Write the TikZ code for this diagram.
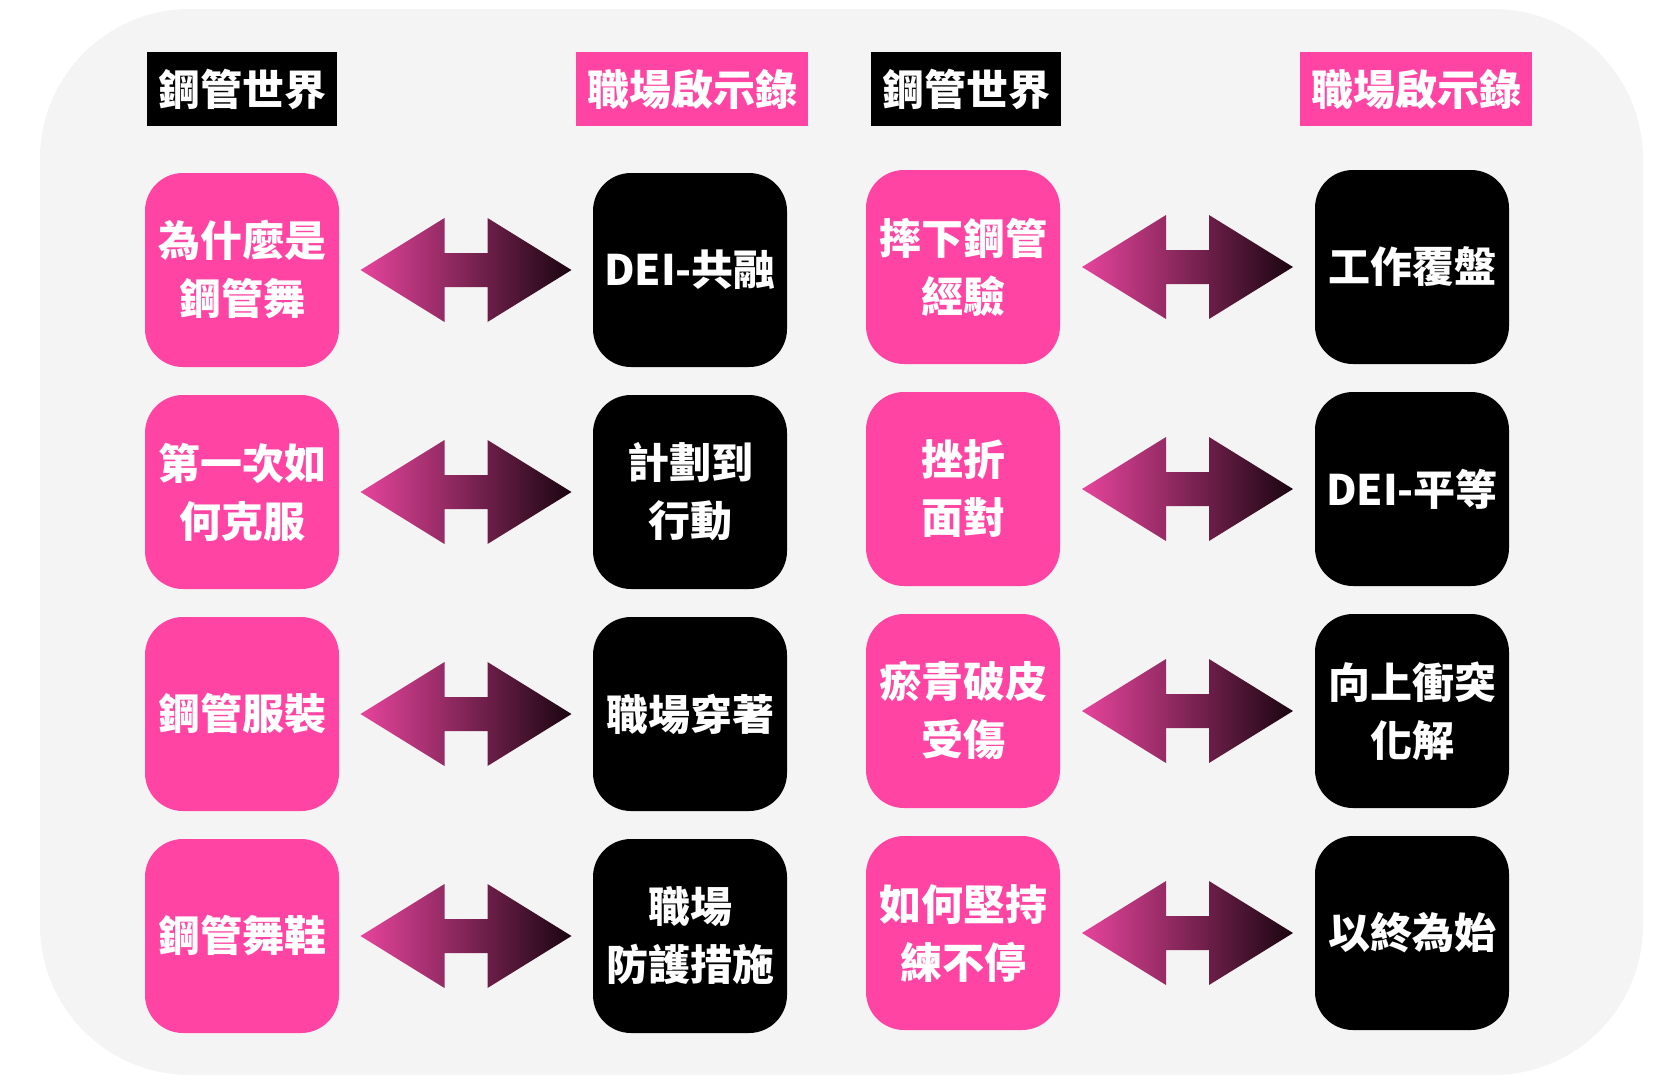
\documentclass[tikz,border=0pt]{standalone}
\usepackage{fontspec}
\newfontfamily\cjk{Noto Sans CJK TC}
\usetikzlibrary{calc}
\definecolor{bggray}{HTML}{F4F4F4}
\definecolor{boxpink}{HTML}{FF44A3}
\definecolor{tippink}{HTML}{E6449C}
\definecolor{tipdark}{HTML}{1A0510}
\tikzstyle{pinkcard}=[rectangle, rounded corners=19pt, minimum width=97pt, minimum height=97pt, inner sep=0, fill=boxpink, text=white, align=center, font=\cjk\bfseries\fontsize{21}{29}\selectfont]
\tikzstyle{blackcard}=[pinkcard, fill=black]
\tikzstyle{pinkhead}=[rectangle, minimum height=37pt, inner xsep=5.5pt, inner ysep=0, fill=boxpink, text=white, font=\cjk\bfseries\fontsize{21}{25}\selectfont]
\tikzstyle{blackhead}=[pinkhead, fill=black]
\tikzstyle{twoway}=[left color=tippink, right color=tipdark]
\newcommand{\twoway}[2]{%
  \shade[twoway] ($(#1.east)!0.5!(#2.west)+(-105.5,0)$) -- ++(84,-52) -- ++(0,35) -- ++(43,0) -- ++(0,-35)
    -- ++(84,52) -- ++(-84,52) -- ++(0,-35) -- ++(-43,0) -- ++(0,35) -- cycle;}

\begin{document}
\begin{tikzpicture}[x=0.5pt,y=-0.5pt]
\useasboundingbox (0,0) rectangle (1676,1088);
\fill[white] (0,0) rectangle (1676,1088);
\fill[bggray, rounded corners=75pt] (40,9) rectangle (1643,1075);

\node[blackhead] (headL1) at (242,89) {鋼管世界};
\node[pinkhead] (headL2) at (692,89) {職場啟示錄};
\node[blackhead] (headR1) at (966,89) {鋼管世界};
\node[pinkhead] (headR2) at (1416,89) {職場啟示錄};

% left half
\node[pinkcard] (poleL1) at (242,270) {為什麼是\\鋼管舞};
\node[pinkcard] (poleL2) at (242,492) {第一次如\\何克服};
\node[pinkcard] (poleL3) at (242,714) {鋼管服裝};
\node[pinkcard] (poleL4) at (242,936) {鋼管舞鞋};
\node[blackcard] (jobL1) at (690,270) {DEI-共融};
\node[blackcard] (jobL2) at (690,492) {計劃到\\行動};
\node[blackcard] (jobL3) at (690,714) {職場穿著};
\node[blackcard] (jobL4) at (690,936) {職場\\防護措施};

% right half
\node[pinkcard] (poleR1) at (963,267) {摔下鋼管\\經驗};
\node[pinkcard] (poleR2) at (963,489) {挫折\\面對};
\node[pinkcard] (poleR3) at (963,711) {瘀青破皮\\受傷};
\node[pinkcard] (poleR4) at (963,933) {如何堅持\\練不停};
\node[blackcard] (jobR1) at (1412,267) {工作覆盤};
\node[blackcard] (jobR2) at (1412,489) {DEI-平等};
\node[blackcard] (jobR3) at (1412,711) {向上衝突\\化解};
\node[blackcard] (jobR4) at (1412,933) {以終為始};

\foreach \r in {1,...,4}{
  \twoway{poleL\r}{jobL\r}
  \twoway{poleR\r}{jobR\r}
}
\end{tikzpicture}
\end{document}
